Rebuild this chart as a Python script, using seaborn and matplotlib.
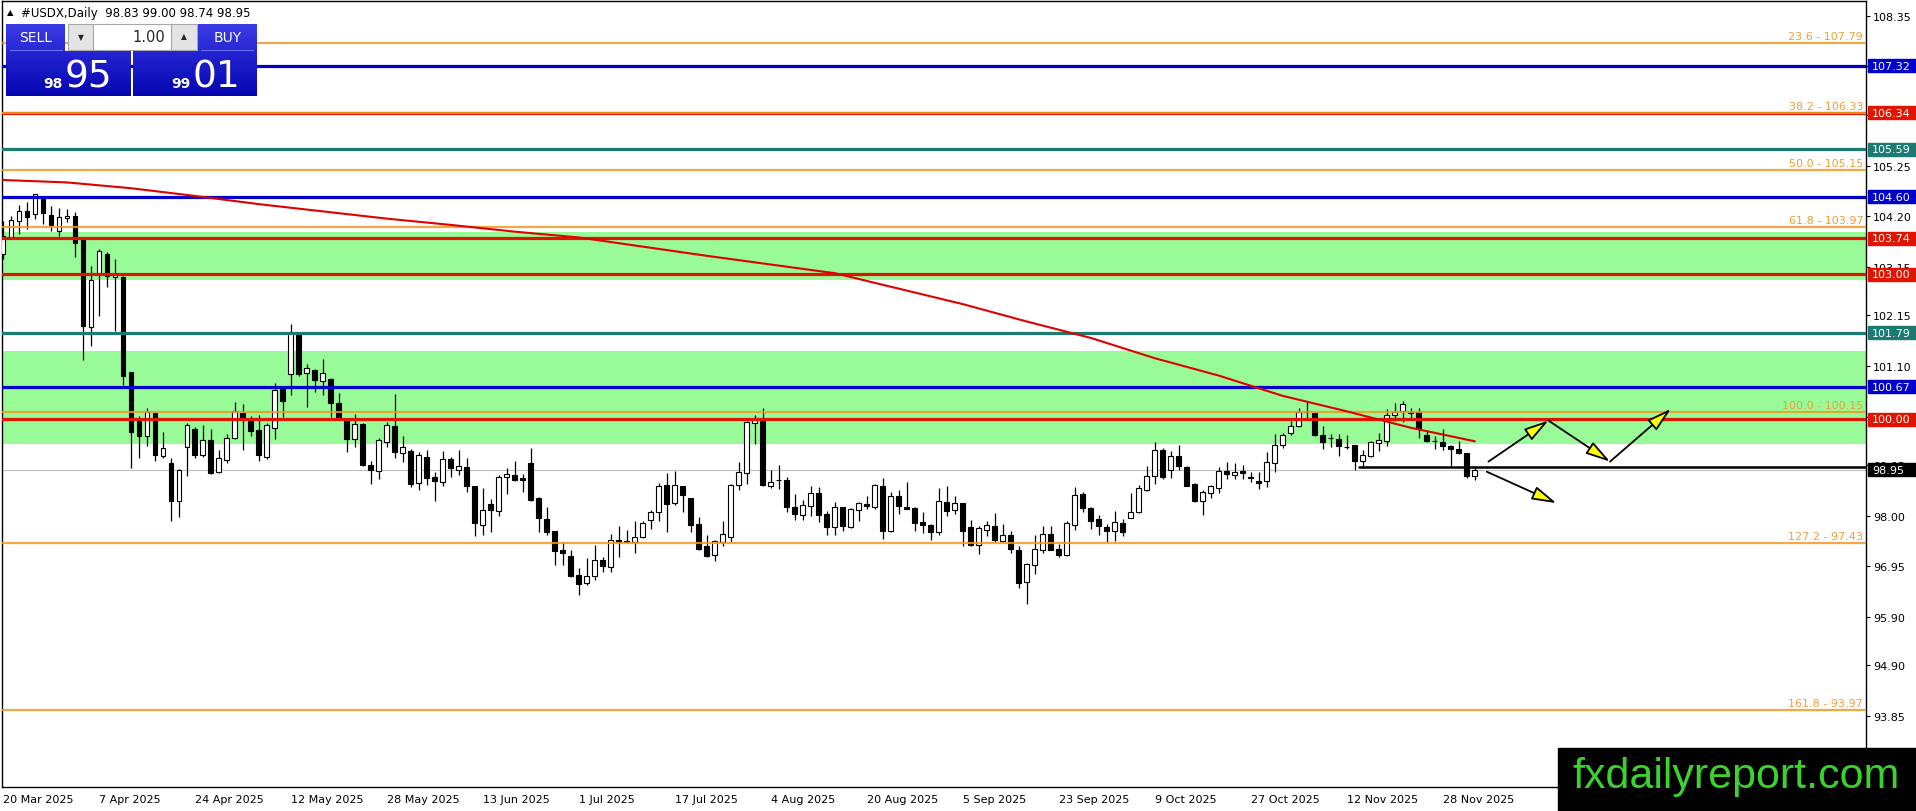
import numpy as np
import matplotlib
matplotlib.use("Agg")
import matplotlib.pyplot as plt
import matplotlib.transforms as mtransforms
from matplotlib.patches import Rectangle
from matplotlib.colors import to_rgb
import seaborn as sns

# daily candles, 20 Mar 2025 -> early Dec 2025
opens = [103.42, 103.77, 104.10, 104.30, 104.25, 104.58, 104.23, 103.89, 104.16, 104.20,
         103.72, 101.90, 103.03, 103.42, 102.94, 102.95, 100.97, 99.99, 99.65, 100.13,
         99.23, 99.09, 98.31, 99.42, 99.80, 99.26, 99.56, 98.91, 99.16, 99.60,
         100.13, 99.97, 99.78, 99.21, 99.81, 100.63, 100.94, 101.76, 100.96, 101.02,
         100.78, 100.82, 100.33, 99.97, 99.59, 99.89, 99.05, 98.93, 99.53, 99.86,
         99.30, 99.33, 98.67, 99.21, 98.80, 98.69, 99.17, 98.95, 99.00, 98.61,
         97.81, 98.24, 98.09, 98.80, 98.84, 98.78, 99.09, 98.37, 97.93, 97.68,
         97.29, 97.16, 96.78, 96.61, 96.75, 97.08, 96.93, 97.50, 97.46, 97.45,
         97.55, 97.92, 98.07, 98.64, 98.26, 98.61, 98.37, 97.82, 97.37, 97.19,
         97.45, 97.55, 98.64, 98.88, 99.92, 99.99, 98.62, 98.73, 98.74, 98.19,
         98.02, 98.21, 98.47, 98.04, 97.76, 98.17, 97.76, 98.11, 98.24, 98.17,
         98.61, 97.68, 98.40, 98.19, 98.16, 97.86, 97.81, 97.66, 98.28, 98.12,
         98.26, 97.76, 97.40, 97.71, 97.78, 97.48, 97.60, 97.29, 96.62, 96.97,
         97.30, 97.63, 97.31, 97.19, 97.81, 98.45, 98.15, 97.93, 97.76, 97.69,
         97.84, 97.95, 98.07, 98.54, 98.82, 99.37, 98.95, 99.23, 99.00, 98.66,
         98.31, 98.46, 98.57, 98.92, 98.85, 98.92, 98.79, 98.71, 98.71, 99.10,
         99.46, 99.71, 99.85, 100.15, 100.13, 99.67, 99.61, 99.59, 99.43, 99.46,
         99.14, 99.24, 99.50, 99.55, 100.09, 100.17, 100.13, 100.15, 99.67, 99.55,
         99.52, 99.45, 99.38, 99.29, 98.83]
highs = [104.11, 104.21, 104.43, 104.49, 104.66, 104.59, 104.42, 104.37, 104.34, 104.28,
         103.73, 103.17, 103.52, 103.46, 103.32, 102.97, 100.98, 100.07, 100.23, 100.14,
         99.73, 99.19, 98.97, 99.92, 99.83, 99.88, 99.80, 99.35, 99.69, 100.36,
         100.32, 100.07, 100.09, 99.92, 100.75, 100.66, 101.97, 101.80, 101.14, 101.04,
         101.25, 100.85, 100.55, 99.99, 100.11, 99.91, 99.13, 99.60, 99.93, 100.52,
         99.66, 99.38, 99.31, 99.35, 98.91, 99.33, 99.21, 99.36, 99.19, 98.62,
         98.57, 98.35, 98.85, 98.98, 99.13, 98.86, 99.40, 98.38, 98.17, 97.68,
         97.46, 97.28, 96.91, 97.12, 97.39, 97.14, 97.63, 97.79, 97.71, 97.90,
         97.90, 98.12, 98.67, 98.88, 98.93, 98.62, 98.37, 97.97, 97.59, 97.50,
         97.88, 98.66, 99.11, 99.97, 100.08, 100.22, 98.95, 99.04, 98.81, 98.44,
         98.33, 98.62, 98.59, 98.09, 98.29, 98.17, 98.15, 98.29, 98.40, 98.66,
         98.79, 98.50, 98.54, 98.69, 98.19, 98.08, 97.83, 98.57, 98.61, 98.40,
         98.26, 97.92, 97.79, 97.90, 98.06, 97.83, 97.69, 97.38, 97.03, 97.59,
         97.78, 97.78, 97.41, 97.90, 98.59, 98.50, 98.17, 98.01, 97.83, 98.09,
         97.93, 98.46, 98.64, 99.02, 99.53, 99.40, 99.33, 99.46, 99.02, 98.67,
         98.54, 98.64, 99.00, 99.11, 99.09, 99.05, 98.90, 98.91, 99.31, 99.69,
         99.71, 99.97, 100.22, 100.35, 100.14, 99.86, 99.70, 99.69, 99.67, 99.46,
         99.35, 99.55, 99.71, 100.20, 100.33, 100.38, 100.24, 100.24, 99.78, 99.66,
         99.79, 99.46, 99.54, 99.29, 99.00]
lows = [103.32, 103.73, 103.83, 103.94, 104.15, 104.04, 103.90, 103.79, 104.08, 103.35,
        101.23, 101.51, 102.14, 102.73, 101.83, 100.71, 98.98, 99.19, 99.45, 99.14,
        99.19, 97.88, 97.98, 98.83, 99.20, 99.21, 98.87, 98.89, 99.09, 99.58,
        99.37, 99.66, 99.14, 99.18, 99.58, 100.04, 100.49, 100.89, 100.25, 100.56,
        100.49, 100.04, 100.00, 99.31, 99.42, 99.02, 98.65, 98.75, 99.42, 99.19,
        99.11, 98.59, 98.54, 98.64, 98.31, 98.62, 98.80, 98.84, 98.50, 97.57,
        97.59, 97.66, 97.99, 98.44, 98.71, 98.49, 98.31, 97.67, 97.60, 96.97,
        96.97, 96.73, 96.35, 96.57, 96.66, 96.83, 96.84, 97.14, 97.45, 97.23,
        97.53, 97.73, 97.90, 97.67, 98.22, 98.07, 97.67, 97.28, 97.14, 97.06,
        97.38, 97.46, 98.54, 98.66, 99.49, 98.61, 98.57, 98.55, 98.08, 97.92,
        97.92, 98.00, 97.86, 97.59, 97.59, 97.69, 97.74, 97.90, 98.14, 98.14,
        97.52, 97.67, 98.04, 98.13, 97.69, 97.64, 97.50, 97.59, 97.99, 98.03,
        97.38, 97.38, 97.21, 97.57, 97.46, 97.46, 97.23, 96.50, 96.17, 96.79,
        97.23, 97.28, 97.15, 97.17, 97.71, 98.07, 97.72, 97.59, 97.46, 97.48,
        97.57, 97.95, 98.05, 98.52, 98.66, 98.76, 98.79, 98.95, 98.62, 98.28,
        98.02, 98.36, 98.48, 98.76, 98.76, 98.76, 98.69, 98.55, 98.59, 98.90,
        99.40, 99.67, 99.84, 100.01, 99.64, 99.38, 99.43, 99.24, 99.38, 98.95,
        98.98, 99.22, 99.33, 99.45, 99.97, 99.95, 100.00, 99.60, 99.53, 99.39,
        99.35, 99.00, 99.28, 98.79, 98.74]
closes = [103.80, 104.13, 104.30, 104.18, 104.65, 104.26, 104.01, 104.18, 104.21, 103.65,
          101.92, 102.87, 103.48, 102.96, 102.99, 100.90, 99.74, 99.66, 100.14, 99.25,
          99.40, 98.31, 98.95, 99.88, 99.25, 99.56, 98.89, 99.19, 99.60, 100.16,
          99.99, 99.76, 99.25, 99.88, 100.61, 100.38, 101.80, 100.93, 101.05, 100.80,
          100.96, 100.34, 100.02, 99.59, 99.89, 99.05, 98.95, 99.56, 99.88, 99.31,
          99.42, 98.65, 99.26, 98.78, 98.71, 99.17, 98.98, 99.02, 98.61, 97.84,
          98.12, 98.11, 98.80, 98.86, 98.74, 98.73, 98.33, 97.95, 97.67, 97.26,
          97.22, 96.75, 96.59, 96.76, 97.08, 96.95, 97.50, 97.45, 97.46, 97.55,
          97.85, 98.07, 98.61, 98.24, 98.64, 98.42, 97.81, 97.31, 97.17, 97.48,
          97.62, 98.64, 98.90, 99.93, 99.99, 98.64, 98.70, 98.73, 98.19, 98.04,
          98.23, 98.47, 98.02, 97.76, 98.17, 97.79, 98.14, 98.26, 98.21, 98.64,
          97.69, 98.40, 98.21, 98.14, 97.84, 97.81, 97.66, 98.30, 98.10, 98.26,
          97.69, 97.39, 97.74, 97.81, 97.50, 97.60, 97.32, 96.61, 97.00, 97.32,
          97.62, 97.28, 97.19, 97.84, 98.42, 98.15, 97.90, 97.79, 97.69, 97.86,
          97.67, 98.07, 98.57, 98.82, 99.37, 98.80, 99.23, 99.02, 98.62, 98.30,
          98.50, 98.61, 98.93, 98.86, 98.91, 98.88, 98.79, 98.68, 99.11, 99.47,
          99.68, 99.85, 100.15, 100.14, 99.67, 99.53, 99.60, 99.45, 99.42, 99.14,
          99.26, 99.52, 99.57, 100.09, 100.15, 100.31, 100.15, 99.81, 99.55, 99.54,
          99.45, 99.38, 99.30, 98.83, 98.95]

# moving average (red curve), read at every 8th bar
ma_bars = [0, 8, 16, 24, 32, 40, 48, 56, 64, 72, 80, 88, 96, 104, 112, 120, 128, 136,
           144, 152, 160, 168, 176, 184]
ma_values = [104.95, 104.90, 104.78, 104.62, 104.45, 104.30, 104.15, 104.02, 103.88, 103.76,
             103.57, 103.38, 103.20, 103.02, 102.70, 102.38, 102.02, 101.68, 101.26, 100.90,
             100.48, 100.16, 99.82, 99.54]

date_labels = ["20 Mar 2025", "7 Apr 2025", "24 Apr 2025", "12 May 2025", "28 May 2025",
               "13 Jun 2025", "1 Jul 2025", "17 Jul 2025", "4 Aug 2025", "20 Aug 2025",
               "5 Sep 2025", "23 Sep 2025", "9 Oct 2025", "27 Oct 2025", "12 Nov 2025",
               "28 Nov 2025"]
price_ticks = [108.35, 107.30, 106.30, 105.25, 104.20, 103.15, 102.15, 101.10, 100.05,
               99.05, 98.00, 96.95, 95.90, 94.90, 93.85]

fib_levels = ["23.6", "38.2", "50.0", "61.8", "100.0", "127.2", "161.8"]
fib_prices = [107.79, 106.33, 105.15, 103.97, 100.15, 97.43, 93.97]
blue_levels = [107.32, 104.60, 100.67]
red_levels = [106.34, 103.74, 103.00, 100.00]
teal_levels = [105.59, 101.79]
zones = [(102.87, 103.87), (99.48, 101.40)]
bid, support = 98.95, 99.00

# projected path (bar, price) pairs
arrows = [((185.7, 99.12), (193.2, 99.97)),
          ((193.2, 99.97), (200.9, 99.12)),
          ((200.9, 99.12), (208.5, 100.21)),
          ((185.5, 98.91), (194.2, 98.26))]

BLUE, RED, TEAL, ORANGE = "#0000CC", "#E01400", "#1B7A72", "#F09A22"

sns.set_style("white")
plt.rcParams["font.family"] = ["DejaVu Sans"]

W, H = 1916, 812
fig = plt.figure(figsize=(W / 100, H / 100), dpi=100)
ax = fig.add_axes([2 / W, (H - 788) / H, 1864 / W, 786 / H])
ax.set_xlim(-0.125, 232.9)
ax.set_ylim(92.383, 108.656)

# zones
for lo, hi in zones:
    ax.axhspan(lo, hi, color="#98FB98", lw=0, zorder=0)
ax.axhline(bid, color="#C0C0C0", lw=0.8, zorder=1)

# candles
o, h, l, c = map(np.array, (opens, highs, lows, closes))
idx = np.arange(len(o))
ax.vlines(idx, l, h, color="black", lw=0.9, zorder=3)
up = c >= o
body_lo = np.minimum(o, c)
body_h = np.maximum(np.abs(c - o), 0.012)
ax.bar(idx[up], body_h[up], bottom=body_lo[up], width=0.62, color="white",
       edgecolor="black", linewidth=0.8, zorder=3.5)
ax.bar(idx[~up], body_h[~up], bottom=body_lo[~up], width=0.62, color="black",
       edgecolor="black", linewidth=0.8, zorder=3.5)

# horizontal levels
trans = mtransforms.blended_transform_factory(ax.transAxes, ax.transData)
for p in red_levels:
    ax.axhline(p, color=RED, lw=2.3, zorder=4)
for p in blue_levels:
    ax.axhline(p, color=BLUE, lw=2.3, zorder=4)
for p in teal_levels:
    ax.axhline(p, color=TEAL, lw=2.3, zorder=4)
for lev, p in zip(fib_levels, fib_prices):
    ax.axhline(p, color=ORANGE, lw=1.6, alpha=0.85, zorder=4.2)
    ax.text(0.9985, p + 0.04, f"{lev} - {p:.2f}", transform=trans,
            ha="right", va="bottom", fontsize=8, color="#EE9E38", zorder=4.3)
ax.plot([169.5, 233], [support, support], color="black", lw=1.8, zorder=4.4)

# moving average
sns.lineplot(x=ma_bars, y=ma_values, ax=ax, color="#E00000", lw=1.5, zorder=5)

for (x0, y0), (x1, y1) in arrows:
    ax.annotate("", xy=(x1, y1), xytext=(x0, y0), zorder=8,
                arrowprops=dict(arrowstyle="-|>,head_length=1.5,head_width=0.42",
                                mutation_scale=10, fc="yellow", ec="black", lw=1.3,
                                shrinkA=0, shrinkB=0))

# axes styling
for s in ax.spines.values():
    s.set_color("black")
    s.set_linewidth(1)
ax.yaxis.tick_right()
ax.set_yticks(price_ticks)
ax.set_yticklabels([f"{t:.2f}" for t in price_ticks])
ax.set_xticks(np.arange(len(date_labels)) * 12)
ax.set_xticklabels(date_labels, ha="left")
ax.tick_params(axis="y", direction="out", length=3, width=0.8, pad=2, labelsize=8, colors="black")
ax.tick_params(axis="x", direction="out", length=3, width=0.8, pad=2, labelsize=8, colors="black")
ax.set_xlabel("")
ax.set_ylabel("")

# price boxes on the right scale
tags = [(p, BLUE) for p in blue_levels] + [(p, RED) for p in red_levels] + \
       [(p, TEAL) for p in teal_levels] + [(bid, "black")]
for p, col in tags:
    ax.add_patch(Rectangle((1 + 2 / 1864, p - 6.5 / 48.3), 48 / 1864, 13 / 48.3,
                           transform=trans, clip_on=False, color=col, zorder=6))
    ax.text(1 + 6 / 1864, p, f"{p:.2f}", transform=trans, ha="left", va="center",
            fontsize=8, color="white", zorder=7, clip_on=False)

# overlay in pixel coordinates: header, trade panel, watermark
ov = fig.add_axes([0, 0, 1, 1], zorder=10)
ov.set_axis_off()
ov.patch.set_alpha(0)


def grad_box(x0, y0, x1, y1, top, bot):
    t = np.linspace(0, 1, 40)[:, None, None]
    img = (1 - t) * np.array(to_rgb(top)) + t * np.array(to_rgb(bot))
    ov.imshow(img, extent=(x0, x1, y1, y0), aspect="auto", zorder=11, interpolation="bilinear")


ov.text(10, 13, "\u25b2", fontsize=6, ha="center", va="center", color="black")
ov.text(21, 13, "#USDX,Daily  98.83 99.00 98.74 98.95", fontsize=8.5, ha="left",
        va="center", color="black")

grad_box(6, 25, 65, 52, "#3C3CE6", "#2828D4")
grad_box(198, 25, 257, 52, "#3C3CE6", "#2828D4")
grad_box(6, 52, 131, 97, "#2424D2", "#0606B0")
grad_box(133, 52, 257, 97, "#2424D2", "#0606B0")
ov.plot([10, 62], [51, 51], color="#7070F0", lw=0.8, zorder=12)
ov.plot([201, 253], [51, 51], color="#7070F0", lw=0.8, zorder=12)
for x0, x1 in [(68, 93), (171, 197)]:
    ov.add_patch(Rectangle((x0, 25), x1 - x0, 26, fc="#E4E4E4", ec="#A8A8A8", lw=0.8, zorder=11))
ov.add_patch(Rectangle((93, 25), 78, 26, fc="white", ec="#A8A8A8", lw=0.8, zorder=11))
ov.text(80.5, 38, "\u25bc", fontsize=5.5, ha="center", va="center", zorder=12)
ov.text(184, 37, "\u25b2", fontsize=5.5, ha="center", va="center", zorder=12)
ov.text(165, 38, "1.00", fontsize=10.5, ha="right", va="center", zorder=12)
ov.text(35.5, 38, "SELL", fontsize=10, color="white", ha="center", va="center", zorder=12)
ov.text(227.5, 38, "BUY", fontsize=10, color="white", ha="center", va="center", zorder=12)
ov.text(63, 88, "98", fontsize=10, fontweight="bold", color="white", ha="right", va="baseline", zorder=12)
ov.text(65, 88, "95", fontsize=27, color="white", ha="left", va="baseline", zorder=12)
ov.text(191, 88, "99", fontsize=10, fontweight="bold", color="white", ha="right", va="baseline", zorder=12)
ov.text(193, 88, "01", fontsize=27, color="white", ha="left", va="baseline", zorder=12)

ov.add_patch(Rectangle((1558, 749), W - 1558, H - 749, color="black", zorder=11))
ov.text(1736, 788, "fxdailyreport.com", fontsize=31, color="#3CD22E", ha="center",
        va="baseline", family=["Liberation Sans", "DejaVu Sans"], zorder=12)

ov.set_xlim(0, W)
ov.set_ylim(H, 0)

fig.savefig("out.png", dpi=100)
